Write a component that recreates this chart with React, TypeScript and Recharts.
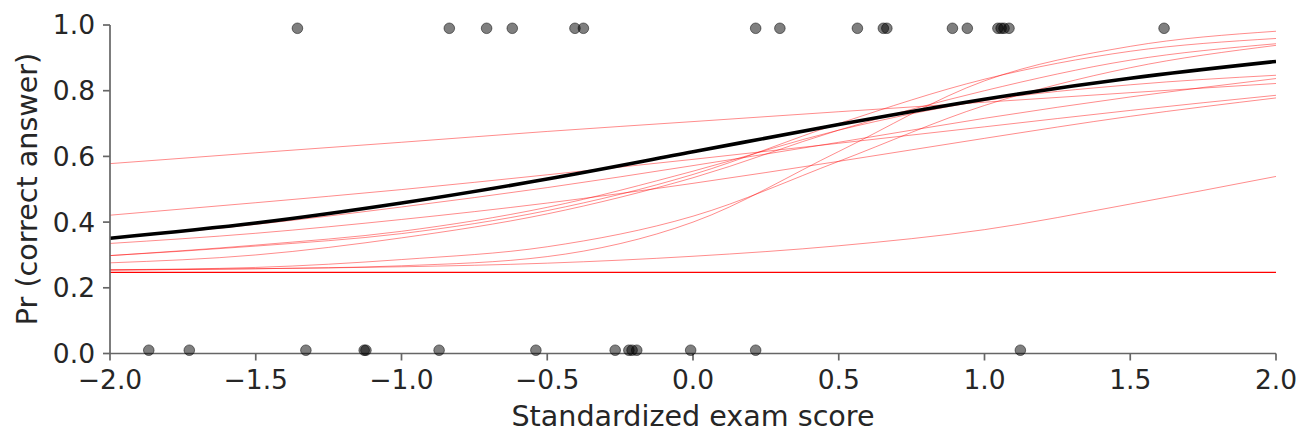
import {
  ComposedChart,
  Line,
  Scatter,
  XAxis,
  YAxis,
} from "recharts";

// score grid the curves were read on
const scoreGrid = [-2, -1.5, -1, -0.5, 0, 0.5, 1, 1.5, 2];

// posterior draws of the item curve (thin red)
const drawA = [0.578, 0.611, 0.643, 0.676, 0.706, 0.736, 0.765, 0.794, 0.822];
const drawB = [0.421, 0.459, 0.499, 0.544, 0.591, 0.64, 0.69, 0.74, 0.786];
const drawC = [0.335, 0.366, 0.408, 0.458, 0.518, 0.585, 0.655, 0.722, 0.778];
const drawD = [0.35, 0.393, 0.446, 0.505, 0.572, 0.643, 0.716, 0.781, 0.837];
const drawE = [0.298, 0.33, 0.372, 0.445, 0.555, 0.68, 0.77, 0.818, 0.847];
const drawF = [0.298, 0.327, 0.365, 0.435, 0.545, 0.7, 0.835, 0.92, 0.959];
const drawG = [0.276, 0.3, 0.352, 0.425, 0.535, 0.68, 0.8, 0.893, 0.943];
const drawH = [0.255, 0.262, 0.286, 0.325, 0.418, 0.585, 0.755, 0.87, 0.938];
const drawI = [0.254, 0.258, 0.267, 0.295, 0.4, 0.615, 0.83, 0.935, 0.981];
const drawJ = [0.254, 0.258, 0.264, 0.275, 0.296, 0.328, 0.377, 0.455, 0.539];
const drawFlat = [0.247, 0.247, 0.247, 0.247, 0.247, 0.247, 0.247, 0.247, 0.247];

// posterior mean curve (thick black)
const meanCurve = [0.351, 0.397, 0.458, 0.531, 0.614, 0.697, 0.774, 0.838, 0.889];

const draws = [drawA, drawB, drawC, drawD, drawE, drawF, drawG, drawH, drawI, drawJ];

// observed answers: scores of the correct ones and the wrong ones
const correctScores = [
  -1.357, -0.836, -0.708, -0.62, -0.405, -0.376, 0.215, 0.298, 0.564, 0.653,
  0.665, 0.89, 0.941, 1.046, 1.057, 1.067, 1.084, 1.616,
];
const wrongScores = [
  -1.867, -1.728, -1.328, -1.128, -1.122, -0.871, -0.539, -0.267, -0.22,
  -0.209, -0.193, -0.008, 0.215, 1.123,
];

const xTicks = [-2, -1.5, -1, -0.5, 0, 0.5, 1, 1.5, 2];
const yTicks = [0, 0.2, 0.4, 0.6, 0.8, 1];

const rows = scoreGrid.map((x, i) => {
  const row: Record<string, number> = { x, mean: meanCurve[i], flat: drawFlat[i] };
  draws.forEach((d, k) => {
    row[`d${k}`] = d[i];
  });
  return row;
});

const answerPoints = [
  ...correctScores.map((x) => ({ x, y: 0.99 })),
  ...wrongScores.map((x) => ({ x, y: 0.01 })),
];

const TEXT = "#262626";
const SPINE = "#666666";

function fmt(v: number) {
  return (v < 0 ? "\u2212" : "") + Math.abs(v).toFixed(1);
}

function Dot(props: any) {
  return (
    <circle
      cx={props.cx}
      cy={props.cy}
      r={5.3}
      fill="#000"
      fillOpacity={0.5}
      stroke="#000"
      strokeOpacity={0.5}
      strokeWidth={1}
    />
  );
}

export default function App() {
  return (
    <div
      style={{
        position: "absolute",
        left: 0,
        top: 0,
        width: 1312,
        height: 448,
        background: "#fff",
        fontFamily: "DejaVu Sans",
      }}
    >
      <ComposedChart
        width={1312}
        height={448}
        data={rows}
        margin={{ top: 25, right: 36, bottom: 0, left: 0 }}
      >
        <XAxis
          dataKey="x"
          type="number"
          domain={[-2, 2]}
          ticks={xTicks}
          tickFormatter={fmt}
          allowDataOverflow
          height={94.5}
          tickSize={7}
          tickMargin={10}
          stroke={SPINE}
          strokeWidth={1.7}
          tick={{ fontSize: 26.5, fill: TEXT }}
          label={{
            content: () => (
              <text
                x={693}
                y={426}
                textAnchor="middle"
                fontSize={28.6}
                fill={TEXT}
              >
                Standardized exam score
              </text>
            ),
          }}
        />
        <YAxis
          type="number"
          domain={[0, 1]}
          ticks={yTicks}
          tickFormatter={(v: number) => v.toFixed(1)}
          width={110}
          tickSize={7}
          tickMargin={8}
          stroke={SPINE}
          strokeWidth={1.7}
          tick={{ fontSize: 26.5, fill: TEXT }}
          label={{
            content: () => (
              <text
                x={37}
                y={189}
                transform="rotate(-90, 37, 189)"
                textAnchor="middle"
                fontSize={28.6}
                fill={TEXT}
              >
                Pr (correct answer)
              </text>
            ),
          }}
        />

        {draws.map((_, k) => (
          <Line
            key={k}
            dataKey={`d${k}`}
            type="monotone"
            stroke="#ff0000"
            strokeOpacity={0.45}
            strokeWidth={1}
            dot={false}
            activeDot={false}
            isAnimationActive={false}
          />
        ))}
        <Line
          dataKey="flat"
          type="monotone"
          stroke="#ff0000"
          strokeWidth={1.3}
          dot={false}
          activeDot={false}
          isAnimationActive={false}
        />
        <Line
          dataKey="mean"
          type="monotone"
          stroke="#000"
          strokeWidth={3.6}
          dot={false}
          activeDot={false}
          isAnimationActive={false}
        />
        <Scatter
          data={answerPoints}
          dataKey="y"
          shape={Dot}
          isAnimationActive={false}
        />
      </ComposedChart>
    </div>
  );
}
